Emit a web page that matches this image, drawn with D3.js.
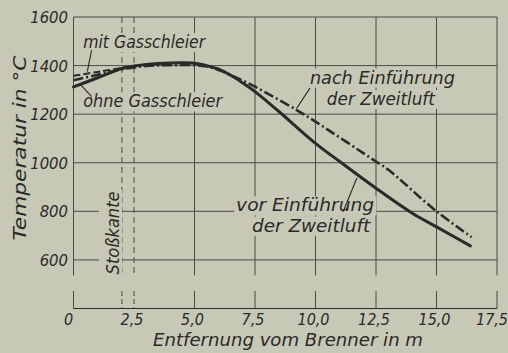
<!DOCTYPE html>
<html>
<head>
<meta charset="utf-8">
<script src="https://cdn.jsdelivr.net/npm/d3@7"></script>
<style>
  html, body { margin: 0; padding: 0; background: #c7c8b6; }
  svg { display: block; }
  text { font-family: "DejaVu Sans Condensed", "DejaVu Sans", sans-serif; font-style: italic; fill: #2a2a28; }
</style>
</head>
<body>
<svg id="chart" width="508" height="353"></svg>
<script>
// achsen
const xTicks = [0, 2.5, 5, 7.5, 10, 12.5, 15, 17.5]
const xTickLabels = ['0', '2,5', '5,0', '7,5', '10,0', '12,5', '15,0', '17,5']
const yTicks = [600, 800, 1000, 1200, 1400, 1600]
const yTickLabels = ['600', '800', '1000', '1200', '1400', '1600']
const stossLines = [2.0, 2.5]

// kurven [m, °C]
const ohneVor = [
  [0, 1312], [1, 1350], [2, 1388], [2.5, 1398], [3, 1405], [4, 1411], [5, 1410],
  [5.5, 1400], [6, 1385], [6.5, 1360], [7, 1328], [7.5, 1293], [8.5, 1210],
  [10, 1080], [11, 1005], [12.5, 895], [14, 792], [15, 736], [16.4, 658]
]
const mitGasschleier = [
  [0, 1358], [1, 1374], [2, 1390], [2.5, 1397], [3, 1402]
]
const nachZweitluft = [
  [0, 1340], [1, 1362], [2, 1385], [3, 1398], [4, 1402], [5, 1402], [5.5, 1396],
  [6, 1382], [6.5, 1360], [7, 1338], [7.5, 1313], [9.22, 1217], [10, 1169],
  [12.5, 1005], [13, 972], [15, 800], [16.45, 694]
]

const labels = [
  { text: 'mit Gasschleier', x: 0.4, t: 1472, len: 122 },
  { text: 'ohne Gasschleier', x: 0.4, t: 1228, len: 139 },
  { text: 'nach Einführung', x: 9.77, t: 1326, len: 145 },
  { text: 'der Zweitluft', x: 10.47, t: 1238, len: 108 },
  { text: 'vor Einführung', x: 6.72, t: 800, len: 138 },
  { text: 'der Zweitluft', x: 7.38, t: 716, len: 118 }
]
const pointers = [
  [[0.75, 1464], [0.57, 1375]],
  [[0.27, 1324], [0.75, 1272]],
  [[9.77, 1307], [9.22, 1224]],
  [[11.71, 937], [11.14, 798]]
]

const svg = d3.select('#chart')
const x = d3.scaleLinear().domain([0, 17.5]).range([73.5, 497])
const y = d3.scaleLinear().domain([400, 1600]).range([308.5, 17])

const gridBottom = y(536)
const tickTop = y(472)
const ink = '#2a2a28'
const gridInk = '#4a4b45'

// gitter
const grid = svg.append('g')
grid.selectAll('line.h')
  .data(yTicks)
  .enter()
  .append('line')
  .attr('x1', x(0)).attr('x2', x(17.5))
  .attr('y1', (d) => y(d)).attr('y2', (d) => y(d))
  .attr('stroke', gridInk).attr('stroke-width', 1)

grid.selectAll('line.v')
  .data(xTicks.filter((d) => d !== 2.5))
  .enter()
  .append('line')
  .attr('x1', (d) => x(d)).attr('x2', (d) => x(d))
  .attr('y1', y(1600)).attr('y2', gridBottom)
  .attr('stroke', gridInk).attr('stroke-width', 1)

grid.selectAll('line.s')
  .data(stossLines)
  .enter()
  .append('line')
  .attr('x1', (d) => x(d)).attr('x2', (d) => x(d))
  .attr('y1', y(1600)).attr('y2', gridBottom)
  .attr('stroke', gridInk).attr('stroke-width', 1)
  .attr('stroke-dasharray', '6,4')

// untere achse mit unterbrechung
grid.append('line')
  .attr('x1', x(0)).attr('x2', x(17.5))
  .attr('y1', y(400)).attr('y2', y(400))
  .attr('stroke', ink).attr('stroke-width', 1.2)

grid.selectAll('line.t')
  .data(xTicks.filter((d) => d !== 2.5))
  .enter()
  .append('line')
  .attr('x1', (d) => x(d)).attr('x2', (d) => x(d))
  .attr('y1', tickTop).attr('y2', y(400))
  .attr('stroke', gridInk).attr('stroke-width', 1)

grid.selectAll('line.ts')
  .data(stossLines)
  .enter()
  .append('line')
  .attr('x1', (d) => x(d)).attr('x2', (d) => x(d))
  .attr('y1', tickTop).attr('y2', y(400))
  .attr('stroke', gridInk).attr('stroke-width', 1)
  .attr('stroke-dasharray', '5,3')

// beschriftung mit hintergrund
function boxed (g) {
  g.each(function () {
    const t = d3.select(this).select('text')
    const b = t.node().getBBox()
    d3.select(this).insert('rect', 'text')
      .attr('x', b.x - 2).attr('y', b.y + 1)
      .attr('width', b.width + 4).attr('height', b.height - 1)
      .attr('fill', '#c7c8b6')
  })
}

const stoss = svg.append('g')
  .attr('transform', `translate(${x(1.88)},${y(711)}) rotate(-90)`)
stoss.append('text')
  .attr('text-anchor', 'middle')
  .attr('font-size', 17)
  .attr('textLength', 83)
  .attr('lengthAdjust', 'spacingAndGlyphs')
  .text('Stoßkante')
stoss.call(boxed)
stoss.select('rect').attr('y', -20).attr('height', 23)

const lab = svg.selectAll('g.lab')
  .data(labels)
  .enter()
  .append('g')
  .attr('transform', (d) => `translate(${x(d.x)},${y(d.t)})`)
lab.append('text')
  .attr('font-size', 17)
  .attr('textLength', (d) => d.len)
  .attr('lengthAdjust', 'spacingAndGlyphs')
  .text((d) => d.text)
lab.call(boxed)

svg.selectAll('line.p')
  .data(pointers)
  .enter()
  .append('line')
  .attr('x1', (d) => x(d[0][0])).attr('y1', (d) => y(d[0][1]))
  .attr('x2', (d) => x(d[1][0])).attr('y2', (d) => y(d[1][1]))
  .attr('stroke', ink).attr('stroke-width', 1.1)

// kurven
const line = d3.line()
  .x((d) => x(d[0]))
  .y((d) => y(d[1]))
  .curve(d3.curveCatmullRom)

svg.append('path')
  .attr('d', line(ohneVor))
  .attr('fill', 'none').attr('stroke', ink)
  .attr('stroke-width', 3).attr('stroke-linecap', 'round')

svg.append('path')
  .attr('d', line(mitGasschleier))
  .attr('fill', 'none').attr('stroke', ink)
  .attr('stroke-width', 2).attr('stroke-dasharray', '7,3')

svg.append('path')
  .attr('d', line(nachZweitluft))
  .attr('fill', 'none').attr('stroke', ink)
  .attr('stroke-width', 2.6).attr('stroke-dasharray', '10,3,2,3')

// achsenbeschriftung
svg.selectAll('text.yt')
  .data(yTicks)
  .enter()
  .append('text')
  .attr('x', 68)
  .attr('y', (d) => y(d) + 6)
  .attr('text-anchor', 'end')
  .attr('font-size', 16.5)
  .text((d, i) => yTickLabels[i])

svg.selectAll('text.xt')
  .data(xTicks)
  .enter()
  .append('text')
  .attr('x', (d) => x(d) - (d === 0 ? 5 : d === 17.5 ? 5 : 2))
  .attr('y', 325)
  .attr('text-anchor', 'middle')
  .attr('font-size', 16)
  .text((d, i) => xTickLabels[i])

svg.append('text')
  .attr('x', 288)
  .attr('y', 346)
  .attr('text-anchor', 'middle')
  .attr('font-size', 17)
  .attr('textLength', 270)
  .attr('lengthAdjust', 'spacingAndGlyphs')
  .text('Entfernung vom Brenner in m')

svg.append('text')
  .attr('transform', `translate(26,148) rotate(-90)`)
  .attr('text-anchor', 'middle')
  .attr('font-size', 17)
  .attr('textLength', 185)
  .attr('lengthAdjust', 'spacingAndGlyphs')
  .text('Temperatur in °C')
</script>
</body>
</html>
